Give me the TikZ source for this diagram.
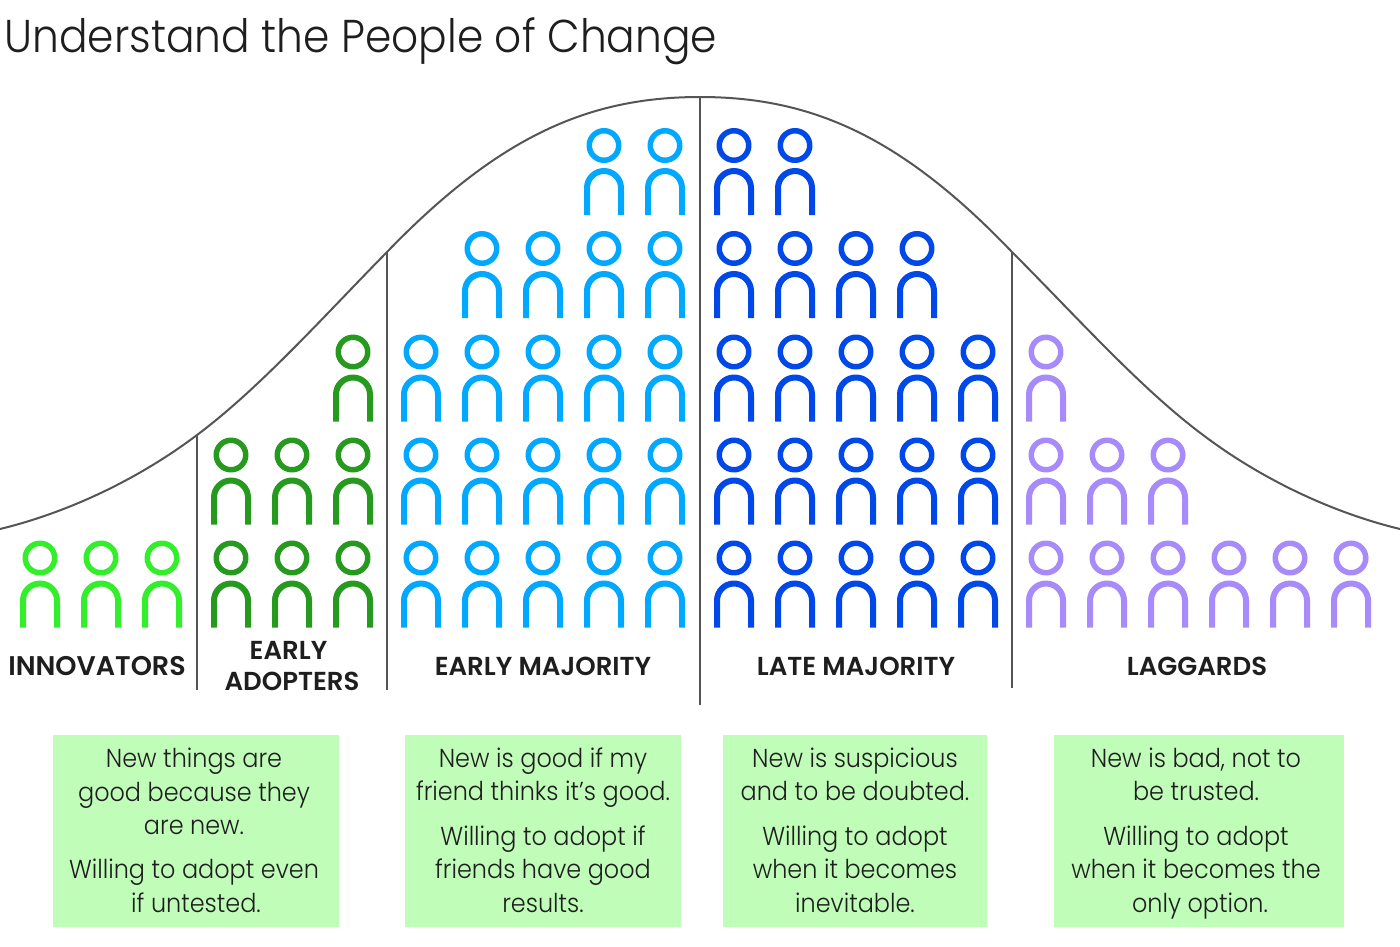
\documentclass[tikz,border=0pt]{standalone}
\usepackage{fontspec}
\setmainfont{Poppins}
\newfontfamily\lightfont[FakeStretch=0.92]{Poppins Light}
\newfontfamily\medfont{Poppins SemiBold}
\definecolor{peopleInk}{HTML}{1E1E1E}
\definecolor{peopleLine}{HTML}{555555}
\definecolor{peopleBox}{HTML}{C0FDB9}
\definecolor{innovGreen}{HTML}{33EE2A}
\definecolor{adoptGreen}{HTML}{259A1E}
\definecolor{earlyBlue}{HTML}{00A8FF}
\definecolor{lateBlue}{HTML}{0048E8}
\definecolor{lagPurple}{HTML}{A78BFA}
\begin{document}
\begin{tikzpicture}[x=1pt,y=-1pt,line cap=butt,line join=round]
\useasboundingbox[fill=white] (0,0) rectangle (1400,946);
\tikzset{figure/.pic={\draw[line width=5.5pt] (0,0) circle[radius=14.75];
  \draw[line width=6pt] (-17,69.5) -- (-17,42.5) arc[start angle=180,end angle=360,radius=17] -- (17,69.5);},
  divider/.style={draw=peopleLine,line width=1.8pt},
  groupname/.style={text=peopleInk,font=\medfont\fontsize{26}{31}\selectfont,align=center},
  notebox/.style={fill=peopleBox,inner sep=0pt,minimum height=192pt},
  notetext/.style={text=peopleInk,font=\lightfont\fontsize{26}{33.5}\selectfont,align=center,inner sep=0pt,
    execute at begin node=\rule[-8pt]{0pt}{25pt},execute at end node=\rule[-8pt]{0pt}{25pt}}}
\node[anchor=west,text=peopleInk,font=\lightfont\fontsize{46}{50}\selectfont] (title) at (1,41) {Understand the People of Change};
% curve and dividers
\coordinate (bellLeft) at (0,529); \coordinate (bellRight) at (1400,529);
\coordinate (topA) at (197,435); \coordinate (topB) at (387,252);
\coordinate (topC) at (700,97); \coordinate (topD) at (1012,252); \coordinate (topE) at (1203,435);
\coordinate (footA) at (197,690); \coordinate (footB) at (387,690);
\coordinate (footC) at (700,705); \coordinate (footD) at (1012,688);
\draw[draw=peopleLine,line width=2pt] (bellLeft) .. controls (70,512) and (140,478) .. (topA)
  .. controls (260,388) and (325,315) .. (topB)
  .. controls (500,135) and (590,97) .. (topC)
  .. controls (810,97) and (900,135) .. (topD)
  .. controls (1075,315) and (1140,388) .. (topE)
  .. controls (1260,478) and (1330,512) .. (bellRight);
\draw[divider] (topA) -- (footA); \draw[divider] (topB) -- (footB);
\draw[divider] (topC) -- (footC); \draw[divider] (topD) -- (footD);
% people
\foreach \cx in {40,101,162} {\pic[innovGreen] at (\cx,558) {figure};}
\foreach \cx/\cy in {231/558,292/558,353/558,231/455,292/455,353/455,353/352} {\pic[adoptGreen] at (\cx,\cy) {figure};}
\foreach \cy in {352,455,558} {\foreach \cx in {421,482,543,604,665} {\pic[earlyBlue] at (\cx,\cy) {figure};}}
\foreach \cx in {482,543,604,665} {\pic[earlyBlue] at (\cx,248.5) {figure};}
\foreach \cx in {604,665} {\pic[earlyBlue] at (\cx,145.5) {figure};}
\foreach \cy in {352,455,558} {\foreach \cx in {734,795,856,917,978} {\pic[lateBlue] at (\cx,\cy) {figure};}}
\foreach \cx in {734,795,856,917} {\pic[lateBlue] at (\cx,248.5) {figure};}
\foreach \cx in {734,795} {\pic[lateBlue] at (\cx,145.5) {figure};}
\foreach \cx in {1046,1107,1168,1229,1290,1351} {\pic[lagPurple] at (\cx,558) {figure};}
\foreach \cx in {1046,1107,1168} {\pic[lagPurple] at (\cx,455) {figure};}
\pic[lagPurple] at (1046,352) {figure};
% labels
\node[groupname,font=\medfont\fontsize{27}{31}\selectfont] (innovName) at (97,666) {INNOVATORS};
\node[groupname] (adoptName) at (292,666) {EARLY\hspace*{7pt}\\ADOPTERS};
\node[groupname] (earlyName) at (543,666) {EARLY MAJORITY};
\node[groupname] (lateName) at (856,666) {LATE MAJORITY};
\node[groupname] (lagName) at (1197,666) {LAGGARDS};
% notes
\node[notebox,minimum width=286pt] (innovNote) at (196,831) {};
\node[notebox,minimum width=276pt] (earlyNote) at (543,831) {};
\node[notebox,minimum width=264pt] (lateNote) at (855,831) {};
\node[notebox,minimum width=290pt] (lagNote) at (1199,831) {};
\node[notetext] (innovText) at (194,834) {New things are\\good because they\\are new.\hspace*{-4pt}\\[10.5pt]Willing to adopt even\\if untested.\hspace*{-4pt}};
\node[notetext] (earlyText) at (543,834) {New is good if my\\friend thinks it’s good.\\[11pt]Willing to adopt if\\friends have good\\results.};
\node[notetext] (lateText) at (855,834) {New is suspicious\\and to be doubted.\\[11pt]Willing to adopt\\when it becomes\\inevitable.};
\node[notetext] (lagText) at (1196,834) {New is bad, not to\\be trusted.\\[11pt]Willing to adopt\\when it becomes the\\only option.\hspace*{-8pt}};
\end{tikzpicture}
\end{document}
